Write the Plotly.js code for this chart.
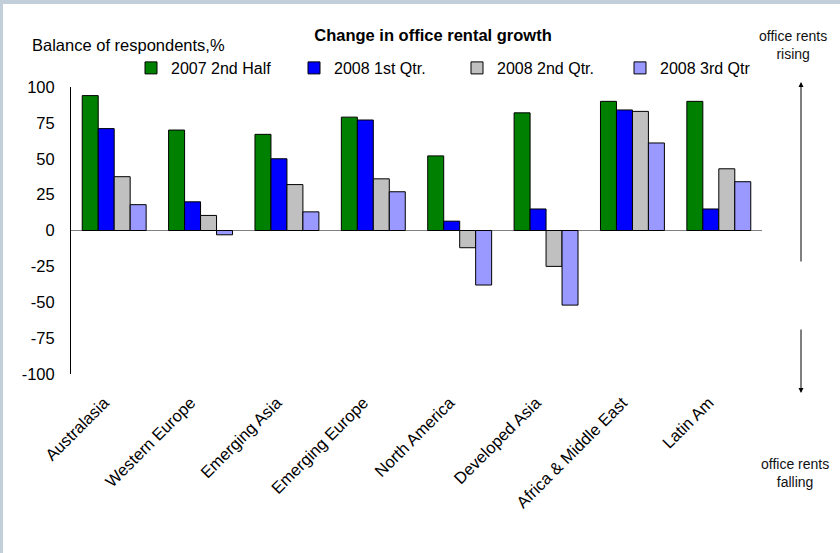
<!DOCTYPE html>
<html>
<head>
<meta charset="utf-8">
<script src="https://cdn.plot.ly/plotly-3.0.1.min.js"></script>
<style>
  html, body { margin: 0; padding: 0; background: #c2ced9; width: 840px; height: 553px; overflow: hidden; }
  #chart { position: absolute; left: 3px; top: 4px; width: 837px; height: 549px; background: #fff; }
</style>
</head>
<body>
<div id="chart"></div>
<script>
const categories = ["Australasia", "Western Europe", "Emerging Asia", "Emerging Europe", "North America", "Developed Asia", "Africa & Middle East", "Latin Am"];
const seriesNames = ["2007 2nd Half", "2008 1st Qtr.", "2008 2nd Qtr.", "2008 3rd Qtr"];
const h2_2007 = [94, 70, 67, 79, 52, 82, 90, 90];
const q1_2008 = [71, 20, 50, 77, 6.5, 15, 84, 15];
const q2_2008 = [37.5, 10.5, 32, 36, -12, -25, 83, 43];
const q3_2008 = [18, -3, 13, 27, -38, -52, 61, 34];
const colors = ["#008000", "#0000ff", "#c0c0c0", "#9999ff"];
const yTicks = [100, 75, 50, 25, 0, -25, -50, -75, -100];

const allSeries = [h2_2007, q1_2008, q2_2008, q3_2008];
const FONT = '"Liberation Sans", Arial, sans-serif';
const NARROW = '"Liberation Sans Narrow", "Arial Narrow", "Liberation Sans", Arial, sans-serif';

const traces = allSeries.map((vals, i) => ({
  type: 'bar',
  name: seriesNames[i],
  x: categories,
  y: vals,
  marker: { color: colors[i], line: { color: '#000', width: 1 } },
  hoverinfo: 'x+y+name'
}));

const W = 837, H = 549;
const L = 68, T = 83, PW = 691, PH = 287;
const px = (x) => (x - L) / PW;
const py = (y) => (T + PH - y) / PH;

const layout = {
  width: W, height: H,
  margin: { l: L, r: W - L - PW, t: T, b: H - T - PH, pad: 0 },
  paper_bgcolor: '#fff',
  plot_bgcolor: '#fff',
  font: { family: FONT, size: 16, color: '#000' },
  title: {
    text: '<b>Change in office rental growth</b>',
    font: { family: FONT, size: 16.5, color: '#000' },
    xref: 'container', yref: 'container',
    x: 430 / W, xanchor: 'center',
    y: 1 - 31 / H, yanchor: 'middle'
  },
  barmode: 'group',
  bargap: 0.26,
  bargroupgap: 0,
  showlegend: true,
  legend: {
    orientation: 'h',
    x: px(128), xanchor: 'left',
    y: py(64), yanchor: 'middle',
    entrywidth: 118, entrywidthmode: 'pixels',
    font: { family: FONT, size: 16, color: '#000' },
    bgcolor: 'rgba(0,0,0,0)',
    traceorder: 'normal'
  },
  xaxis: {
    type: 'category',
    showline: false,
    showgrid: false,
    zeroline: false,
    ticks: '',
    tickangle: -45,
    tickfont: { family: FONT, size: 16.5, color: '#000' },
    ticklabelstandoff: 15,
    ticklabelshift: -10
  },
  yaxis: {
    range: [-100, 100],
    tickvals: yTicks,
    ticktext: yTicks.map(String),
    showline: true,
    linecolor: '#000',
    linewidth: 1,
    showgrid: false,
    zeroline: true,
    zerolinecolor: '#808080',
    zerolinewidth: 1.5,
    ticks: '',
    ticklabelstandoff: 12,
    tickfont: { family: FONT, size: 16.5, color: '#000' }
  },
  annotations: [
    {
      text: 'Balance of respondents,%',
      xref: 'paper', yref: 'paper',
      x: px(27), y: py(41), xanchor: 'left', yanchor: 'middle',
      showarrow: false,
      font: { family: FONT, size: 16.5, color: '#000' }
    },
    {
      text: 'office rents<br>rising',
      xref: 'paper', yref: 'paper',
      x: px(790), y: py(41), xanchor: 'center', yanchor: 'middle',
      showarrow: false,
      font: { family: NARROW, size: 14, color: '#111' }
    },
    {
      text: 'office rents<br>falling',
      xref: 'paper', yref: 'paper',
      x: px(792), y: py(469), xanchor: 'center', yanchor: 'middle',
      showarrow: false,
      font: { family: NARROW, size: 14, color: '#111' }
    },
    {
      text: '',
      xref: 'paper', yref: 'paper',
      x: px(798), y: py(78),
      ax: 0, ay: 259 - 78,
      showarrow: true, arrowhead: 2, arrowsize: 1, arrowwidth: 1, arrowcolor: '#000', standoff: 0
    },
    {
      text: '',
      xref: 'paper', yref: 'paper',
      x: px(798), y: py(389),
      ax: 0, ay: 324 - 389,
      showarrow: true, arrowhead: 2, arrowsize: 1, arrowwidth: 1, arrowcolor: '#000', standoff: 0
    }
  ]
};

Plotly.newPlot('chart', traces, layout, { displayModeBar: false, staticPlot: true });
</script>
</body>
</html>
